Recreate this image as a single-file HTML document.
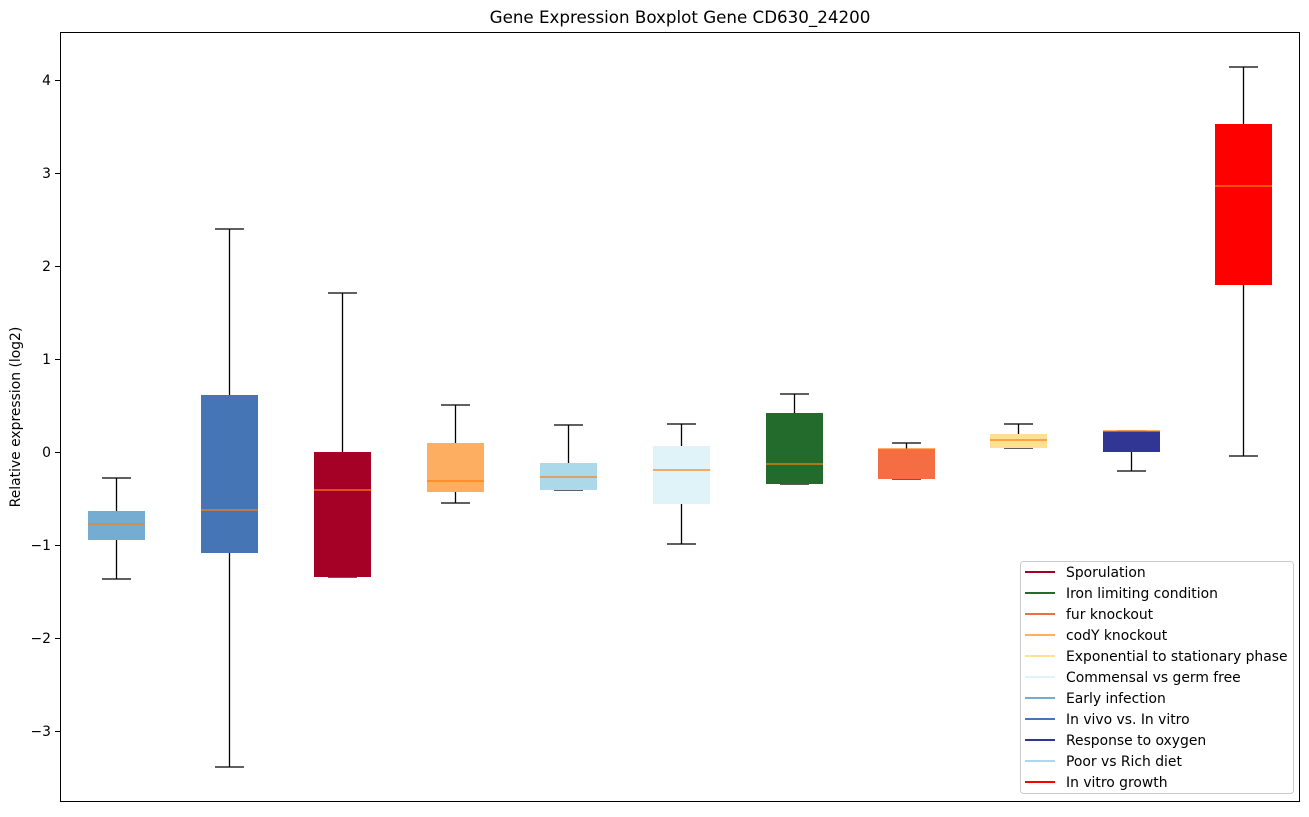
<!DOCTYPE html>
<html><head><meta charset="utf-8"><style>
body{margin:0;background:#fff;}
svg text{font-family:"DejaVu Sans","Liberation Sans",sans-serif;}
</style></head><body>
<svg width="1309" height="812" xmlns="http://www.w3.org/2000/svg">
<rect width="1309" height="812" fill="#fff"/>
<text x="680" y="23" font-size="16.7" text-anchor="middle">Gene Expression Boxplot Gene CD630_24200</text>
<g font-size="13.9" text-anchor="end">
<text x="51" y="85">4</text><text x="51" y="178">3</text><text x="51" y="271">2</text><text x="51" y="364">1</text><text x="51" y="457">0</text>
<text x="51" y="550">−1</text><text x="51" y="643">−2</text><text x="51" y="736">−3</text>
</g>
<g stroke="#000"><line x1="55" x2="60" y1="80.5" y2="80.5"/><line x1="55" x2="60" y1="173.5" y2="173.5"/><line x1="55" x2="60" y1="266.5" y2="266.5"/><line x1="55" x2="60" y1="359.5" y2="359.5"/><line x1="55" x2="60" y1="452.5" y2="452.5"/><line x1="55" x2="60" y1="545.5" y2="545.5"/><line x1="55" x2="60" y1="638.5" y2="638.5"/><line x1="55" x2="60" y1="731.5" y2="731.5"/></g>
<text transform="translate(20,417) rotate(-90)" font-size="13.9" text-anchor="middle">Relative expression (log2)</text>
<g stroke="#000" stroke-width="1.3">
<line x1="116.5" x2="116.5" y1="478" y2="511"/><line x1="116.5" x2="116.5" y1="540" y2="579"/><line x1="102" x2="131" y1="478" y2="478"/><line x1="102" x2="131" y1="579" y2="579"/>
<rect x="88" y="511" width="57" height="29" fill="#74add1" stroke="none"/><line x1="88" x2="145" y1="524" y2="524" stroke="#ff7f0e"/>

<line x1="229.5" x2="229.5" y1="229" y2="395"/><line x1="229.5" x2="229.5" y1="553" y2="767"/><line x1="215" x2="244" y1="229" y2="229"/><line x1="215" x2="244" y1="767" y2="767"/>
<rect x="201" y="395" width="57" height="158" fill="#4575b4" stroke="none"/><line x1="201" x2="258" y1="510" y2="510" stroke="#ff7f0e"/>

<line x1="342.5" x2="342.5" y1="293" y2="452"/><line x1="328" x2="357" y1="293" y2="293"/><line x1="328" x2="357" y1="577" y2="577"/>
<rect x="314" y="452" width="57" height="125" fill="#a50026" stroke="none"/><line x1="314" x2="371" y1="490" y2="490" stroke="#ff7f0e"/>

<line x1="455.5" x2="455.5" y1="405" y2="443"/><line x1="455.5" x2="455.5" y1="492" y2="503"/><line x1="441" x2="470" y1="405" y2="405"/><line x1="441" x2="470" y1="503" y2="503"/>
<rect x="427" y="443" width="57" height="49" fill="#fdae61" stroke="none"/><line x1="427" x2="484" y1="481" y2="481" stroke="#ff7f0e"/>

<line x1="568.5" x2="568.5" y1="425" y2="463"/><line x1="554" x2="583" y1="425" y2="425"/><line x1="554" x2="583" y1="490" y2="490"/>
<rect x="540" y="463" width="57" height="27" fill="#abd9e9" stroke="none"/><line x1="540" x2="597" y1="477" y2="477" stroke="#ff7f0e"/>

<line x1="681.5" x2="681.5" y1="424" y2="446"/><line x1="681.5" x2="681.5" y1="504" y2="544"/><line x1="667" x2="696" y1="424" y2="424"/><line x1="667" x2="696" y1="544" y2="544"/>
<rect x="653" y="446" width="57" height="58" fill="#e0f3f8" stroke="none"/><line x1="653" x2="710" y1="470" y2="470" stroke="#ff7f0e"/>

<line x1="794.5" x2="794.5" y1="394" y2="413"/><line x1="780" x2="809" y1="394" y2="394"/><line x1="780" x2="809" y1="484" y2="484"/>
<rect x="766" y="413" width="57" height="71" fill="#226b2d" stroke="none"/><line x1="766" x2="823" y1="464" y2="464" stroke="#ff7f0e"/>

<line x1="906.5" x2="906.5" y1="443" y2="449"/><line x1="892" x2="921" y1="443" y2="443"/><line x1="892" x2="921" y1="479" y2="479"/>
<rect x="878" y="449" width="57" height="30" fill="#f46d43" stroke="none"/><line x1="878" x2="935" y1="449" y2="449" stroke="#ff7f0e"/>

<line x1="1018.5" x2="1018.5" y1="424" y2="434"/><line x1="1004" x2="1033" y1="424" y2="424"/><line x1="1004" x2="1033" y1="448" y2="448"/>
<rect x="990" y="434" width="57" height="14" fill="#fee090" stroke="none"/><line x1="990" x2="1047" y1="440" y2="440" stroke="#ff7f0e"/>

<line x1="1131.5" x2="1131.5" y1="452" y2="471"/><line x1="1117" x2="1146" y1="431" y2="431"/><line x1="1117" x2="1146" y1="471" y2="471"/>
<rect x="1103" y="431" width="57" height="21" fill="#313695" stroke="none"/><line x1="1103" x2="1160" y1="431" y2="431" stroke="#ff7f0e"/>

<line x1="1243.5" x2="1243.5" y1="67" y2="124"/><line x1="1243.5" x2="1243.5" y1="285" y2="456"/><line x1="1229" x2="1258" y1="67" y2="67"/><line x1="1229" x2="1258" y1="456" y2="456"/>
<rect x="1215" y="124" width="57" height="161" fill="#ff0000" stroke="none"/><line x1="1215" x2="1272" y1="186" y2="186" stroke="#ff7f0e"/>
</g>
<rect x="60.5" y="32.5" width="1239" height="769" fill="none" stroke="#000"/>
<rect x="1020.5" y="561.5" width="273" height="232" rx="3" fill="#fff" fill-opacity="0.8" stroke="#ccc"/>
<g font-size="13.9" stroke-width="2">
<line x1="1025" x2="1055" y1="572" y2="572" stroke="#a50026"/><text x="1066" y="577">Sporulation</text>
<line x1="1025" x2="1055" y1="593" y2="593" stroke="#226b2d"/><text x="1066" y="598">Iron limiting condition</text>
<line x1="1025" x2="1055" y1="614" y2="614" stroke="#f46d43"/><text x="1066" y="619">fur knockout</text>
<line x1="1025" x2="1055" y1="635" y2="635" stroke="#fdae61"/><text x="1066" y="640">codY knockout</text>
<line x1="1025" x2="1055" y1="656" y2="656" stroke="#fee090"/><text x="1066" y="661">Exponential to stationary phase</text>
<line x1="1025" x2="1055" y1="677" y2="677" stroke="#e0f3f8"/><text x="1066" y="682">Commensal vs germ free</text>
<line x1="1025" x2="1055" y1="698" y2="698" stroke="#74add1"/><text x="1066" y="703">Early infection</text>
<line x1="1025" x2="1055" y1="719" y2="719" stroke="#4575b4"/><text x="1066" y="724">In vivo vs. In vitro</text>
<line x1="1025" x2="1055" y1="740" y2="740" stroke="#313695"/><text x="1066" y="745">Response to oxygen</text>
<line x1="1025" x2="1055" y1="761" y2="761" stroke="#abd9e9"/><text x="1066" y="766">Poor vs Rich diet</text>
<line x1="1025" x2="1055" y1="782" y2="782" stroke="#ff0000"/><text x="1066" y="787">In vitro growth</text>
</g>
</svg>
</body></html>
